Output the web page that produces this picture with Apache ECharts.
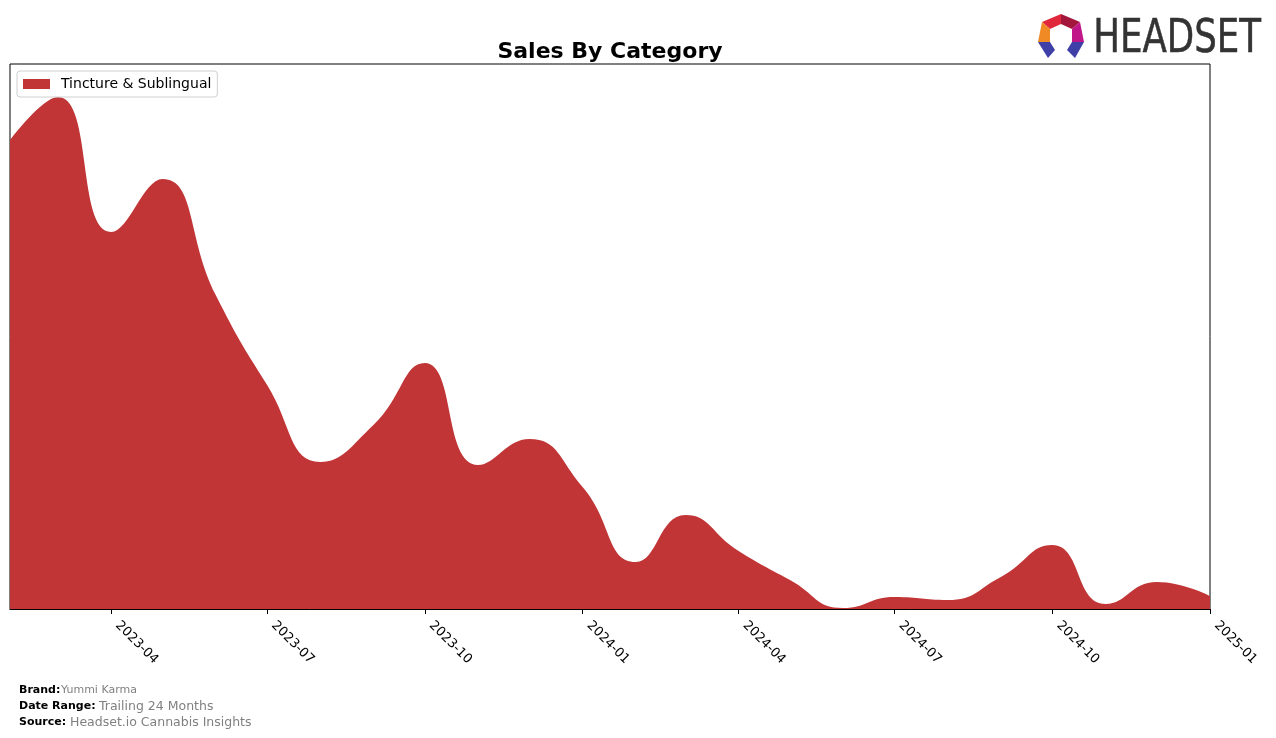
<!DOCTYPE html>
<html>
<head>
<meta charset="utf-8">
<script src="https://cdn.jsdelivr.net/npm/echarts@6/dist/echarts.min.js"></script>
<style>
html,body{margin:0;padding:0;background:#fff;}
#chart{width:1276px;height:738px;}
</style>
</head>
<body>
<div id="chart"></div>
<script>
// ---- data ----
var months = ["2023-02-01","2023-03-01","2023-04-01","2023-05-01","2023-06-01","2023-07-01",
  "2023-08-01","2023-09-01","2023-10-01","2023-11-01","2023-12-01","2024-01-01",
  "2024-02-01","2024-03-01","2024-04-01","2024-05-01","2024-06-01","2024-07-01",
  "2024-08-01","2024-09-01","2024-10-01","2024-11-01","2024-12-01","2025-01-01"];
var tinctureSales = [469,512,377,430,314,224,147,184,246,144,170,122,47,94,58,29,1,12,9,32,64,5,27,13];
var tickLabels = ["2023-04","2023-07","2023-10","2024-01","2024-04","2024-07","2024-10","2025-01"];
var seriesName = "Tincture & Sublingual";

var FONT = "DejaVu Sans";
var RED = "#C13536";
var DAY = 86400000;
function toDay(s){ return Math.round(new Date(s + "T00:00:00Z").getTime() / DAY); }
var tickValues = tickLabels.map(function(t){ return toDay(t + "-01"); });
var seriesData = months.map(function(m, i){ return [toDay(m), tinctureSales[i]]; });

var chart = echarts.init(document.getElementById('chart'), null, {renderer:'canvas'});
chart.setOption({
  animation:false,
  backgroundColor:'#fff',
  legend:{
    left:17, top:71, orient:'vertical',
    itemWidth:27, itemHeight:10, itemGap:6,
    padding:[6,6,6,6],
    borderColor:'#d0d0d0', borderWidth:1, borderRadius:3,
    backgroundColor:'rgba(255,255,255,0.8)',
    textStyle:{fontFamily:FONT, fontSize:14, color:'#000', padding:[0,0,0,6]},
    data:[{name:seriesName, icon:'rect'}]
  },
  grid:{left:10, right:66, top:64, bottom:129, show:true, borderColor:'#000', borderWidth:1, backgroundColor:'transparent'},
  xAxis:{
    type:'value',
    min:seriesData[0][0], max:seriesData[seriesData.length-1][0],
    axisLine:{show:true, lineStyle:{color:'#000', width:1}},
    axisTick:{show:true, inside:false, length:5, lineStyle:{color:'#000'}, customValues:tickValues},
    axisLabel:{
      customValues:tickValues, rotate:-45, margin:8, padding:[0,0,0,9],
      fontFamily:FONT, fontSize:13, color:'#000',
      formatter:function(v){
        var d=new Date(v*DAY); var m=d.getUTCMonth()+1;
        return d.getUTCFullYear()+'-'+(m<10?'0'+m:m);
      }
    },
    splitLine:{show:false}
  },
  yAxis:{
    type:'value', min:0, max:545,
    axisLine:{show:false}, axisTick:{show:false}, axisLabel:{show:false}, splitLine:{show:false}
  },
  series:[{
    name:seriesName, type:'line', data:seriesData,
    smooth:0.5, symbol:'none',
    lineStyle:{width:0, color:RED},
    itemStyle:{color:RED},
    areaStyle:{color:RED, opacity:1}
  }],
  graphic:[
    {type:'text', x:610, y:41, style:{text:'Sales By Category', align:'center', fontFamily:FONT, fontWeight:'bold', fontSize:22, fill:'#000'}},
    {type:'polygon', shape:{points:[[1042,22],[1061,14],[1061,24],[1050,29]]}, style:{fill:'#e0283c'}},
    {type:'polygon', shape:{points:[[1061,14],[1080,22],[1072,29],[1061,24]]}, style:{fill:'#a3173c'}},
    {type:'polygon', shape:{points:[[1042,22],[1050,29],[1050,42],[1038,42]]}, style:{fill:'#f08a24'}},
    {type:'polygon', shape:{points:[[1080,22],[1084,42],[1072,42],[1072,29]]}, style:{fill:'#c0168a'}},
    {type:'polygon', shape:{points:[[1038,42],[1050,42],[1055,50],[1048,58]]}, style:{fill:'#3f3fa8'}},
    {type:'polygon', shape:{points:[[1072,42],[1084,42],[1075,58],[1067,50]]}, style:{fill:'#3f3fa8'}},
    {type:'text', left:1093, top:17, style:{text:'HEADSET', fontFamily:'DejaVu Sans Condensed, DejaVu Sans', fontSize:46, fill:'#333', fontWeight:'normal', stroke:'#333', lineWidth:0.5}, scaleX:0.86},
    {type:'text', left:19, top:685, style:{text:'Brand:', fontFamily:FONT, fontWeight:'bold', fontSize:11, fill:'#000'}},
    {type:'text', left:61, top:685, style:{text:'Yummi Karma', fontFamily:FONT, fontSize:11, fill:'#808080'}},
    {type:'text', left:19, top:701, style:{text:'Date Range:', fontFamily:FONT, fontWeight:'bold', fontSize:11, fill:'#000'}},
    {type:'text', left:99, top:700, style:{text:'Trailing 24 Months', fontFamily:FONT, fontSize:12.5, fill:'#808080'}},
    {type:'text', left:19, top:717, style:{text:'Source:', fontFamily:FONT, fontWeight:'bold', fontSize:11, fill:'#000'}},
    {type:'text', left:70, top:716, style:{text:'Headset.io Cannabis Insights', fontFamily:FONT, fontSize:12.5, fill:'#808080'}}
  ]
});
</script>
</body>
</html>
